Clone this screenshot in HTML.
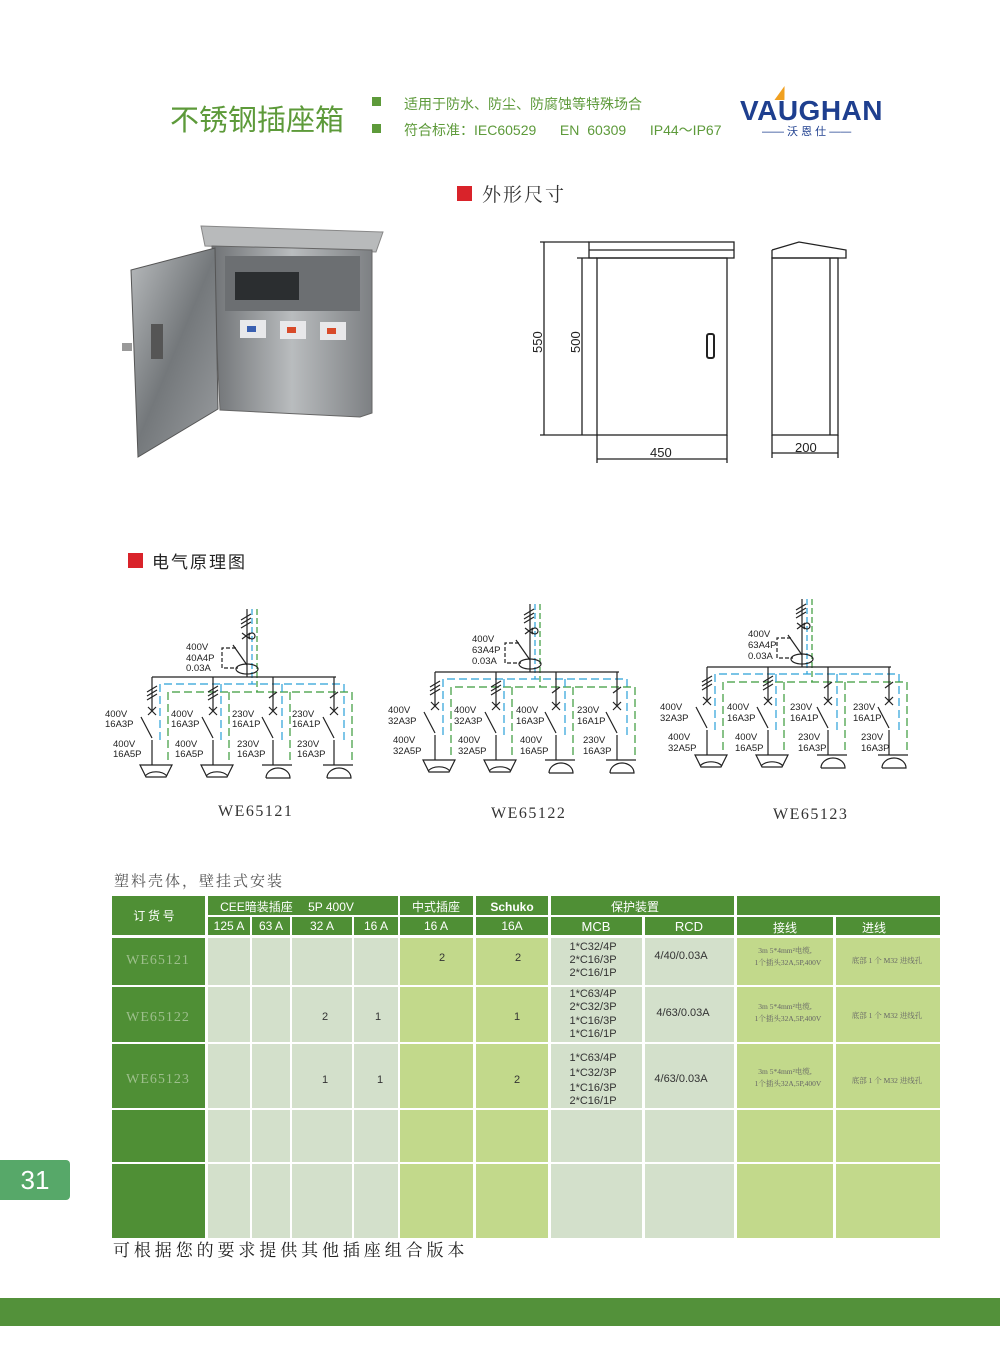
<!DOCTYPE html>
<html><head><meta charset="utf-8"><style>
body{margin:0;width:1000px;height:1363px;background:#fff;position:relative;overflow:hidden;font-family:"Liberation Sans","Noto Sans CJK SC",sans-serif}
.a{position:absolute}
</style></head><body>
<div class="a" style="left:170px;top:97px;font-size:29px;color:#5d9a3a;font-family:'Noto Sans CJK SC',sans-serif;letter-spacing:0px">不锈钢插座箱</div>
<div class="a" style="left:372px;top:97px;width:9px;height:9px;background:#5d9a3a"></div>
<div class="a" style="left:372px;top:124px;width:9px;height:9px;background:#5d9a3a"></div>
<div class="a" style="left:404px;top:94px;font-size:14px;color:#5d9a3a">适用于防水、防尘、防腐蚀等特殊场合</div>
<div class="a" style="left:404px;top:120px;font-size:14px;color:#5d9a3a;word-spacing:4px;white-space:pre">符合标准：IEC60529   EN 60309   IP44～IP67</div>
<div class="a" style="left:740px;top:95px;font-size:28px;font-weight:bold;color:#1e3f8f;letter-spacing:0.5px">VAUGHAN</div>
<div class="a" style="left:777px;top:86px;width:0;height:0;border-left:5px solid transparent;border-right:5px solid transparent;border-bottom:14px solid #f0a020;transform:skewX(-20deg)"></div>
<div class="a" style="left:762px;top:123px;font-size:11px;color:#1e3f8f;white-space:pre">—— 沃 恩 仕 ——</div>

<div class="a" style="left:457px;top:186px;width:15px;height:15px;background:#d9232a"></div>
<div class="a" style="left:482px;top:180px;font-size:19px;color:#333;font-family:'Noto Serif CJK SC',serif;letter-spacing:2px">外形尺寸</div>
<div class="a" style="left:128px;top:553px;width:15px;height:15px;background:#d9232a"></div>
<div class="a" style="left:152px;top:548px;font-size:17px;color:#222;letter-spacing:2px">电气原理图</div>

<svg class="a" style="left:0;top:0" width="1000" height="1363">
<defs>
<linearGradient id="st" x1="0" y1="0" x2="1" y2="1"><stop offset="0" stop-color="#b8bbbd"/><stop offset=".5" stop-color="#74787b"/><stop offset="1" stop-color="#9a9da0"/></linearGradient>
<linearGradient id="st2" x1="0" y1="0" x2="1" y2="0"><stop offset="0" stop-color="#6f7275"/><stop offset=".5" stop-color="#b9bcbe"/><stop offset="1" stop-color="#7d8083"/></linearGradient>
</defs>
<polygon points="201,226 383,232 376,252 205,246" fill="#b8babb" stroke="#888"/>
<polygon points="212,246 372,250 372,413 360,417 220,410" fill="url(#st2)" stroke="#666"/>
<rect x="225" y="256" width="135" height="55" fill="#6c6f72"/>
<rect x="235" y="272" width="64" height="28" fill="#2b2e30"/>
<rect x="240" y="320" width="26" height="18" fill="#e8e8ea"/><rect x="247" y="326" width="9" height="6" fill="#3a5fb0"/>
<rect x="280" y="321" width="26" height="18" fill="#e8e8ea"/><rect x="287" y="327" width="9" height="6" fill="#d84a2a"/>
<rect x="320" y="322" width="26" height="18" fill="#e8e8ea"/><rect x="327" y="328" width="9" height="6" fill="#d84a2a"/>
<polygon points="131,270 215,248 218,409 138,457" fill="url(#st)" stroke="#555"/>
<rect x="151" y="324" width="12" height="35" fill="#555"/>
<rect x="122" y="343" width="10" height="8" fill="#999"/>
</svg>

<svg class="a" style="left:0;top:0" width="1000" height="1363" fill="none" stroke="#222" stroke-width="1.3">
<rect x="589" y="242" width="145" height="16"/><line x1="589" y1="250" x2="734" y2="250"/>
<rect x="597" y="258" width="130" height="177"/>
<rect x="707" y="334" width="7" height="24" rx="2" stroke-width="2"/>
<polyline points="772,250 772,258 846,258 846,250 799,242 772,250"/>
<rect x="772" y="258" width="66" height="177"/><line x1="830" y1="258" x2="830" y2="435"/>
<line x1="540" y1="242" x2="589" y2="242"/><line x1="540" y1="435" x2="597" y2="435"/><line x1="544" y1="242" x2="544" y2="435"/>
<line x1="577" y1="258" x2="597" y2="258"/><line x1="582" y1="258" x2="582" y2="435"/>
<line x1="597" y1="435" x2="597" y2="463"/><line x1="727" y1="435" x2="727" y2="463"/><line x1="597" y1="459" x2="727" y2="459"/>
<line x1="772" y1="435" x2="772" y2="458"/><line x1="838" y1="435" x2="838" y2="458"/><line x1="772" y1="453" x2="838" y2="453"/>
<g fill="#222" stroke="none" font-size="13" font-family="Liberation Sans">
<text x="650" y="457">450</text><text x="795" y="452">200</text>
<text transform="translate(542,353) rotate(-90)">550</text><text transform="translate(580,353) rotate(-90)">500</text>
</g>
</svg>

<svg class="a" style="left:0;top:0" width="1000" height="1363" font-family="Liberation Sans" font-size="9.5">
<defs>
<g id="sch" fill="none" stroke-width="1.2">
<line x1="247" y1="609" x2="247" y2="677" stroke="#222"/>
<line x1="252" y1="609" x2="252" y2="684" stroke="#2aa0d8" stroke-dasharray="6,3"/>
<line x1="257" y1="609" x2="257" y2="692" stroke="#3a9a3a" stroke-dasharray="6,3"/>
<path d="M241,620l10,-6M241,624l10,-6M241,628l10,-6M242,633l8,6M242,639l8,-6" stroke="#222"/>
<circle cx="252" cy="636" r="3" stroke="#222"/>
<line x1="233" y1="645" x2="247" y2="665" stroke="#222"/>
<path d="M236,648h-14v20h16" stroke="#222" stroke-dasharray="4,2"/>
<ellipse cx="247" cy="669" rx="11" ry="5" stroke="#222"/>
<line x1="152" y1="677" x2="336" y2="677" stroke="#222"/>
<path d="M160,740V684H344V740" stroke="#2aa0d8" stroke-dasharray="8,4"/>
<path d="M168,760V692H352V760" stroke="#3a9a3a" stroke-dasharray="8,4"/>
<path d="M221,740V684M282,740V684" stroke="#2aa0d8" stroke-dasharray="8,4"/>
<path d="M229,760V692M290,760V692" stroke="#3a9a3a" stroke-dasharray="8,4"/>
<g stroke="#222">
<path d="M152,677V711M148,707l8,8M156,707l-8,8M141,717l11,21M152,740V765"/>
<path d="M213,677V711M209,707l8,8M217,707l-8,8M202,717l11,21M213,740V765"/>
<path d="M273,677V711M269,707l8,8M277,707l-8,8M262,717l11,21M273,740V765"/>
<path d="M334,677V711M330,707l8,8M338,707l-8,8M323,717l11,21M334,740V765"/>
<path d="M147,692l10,-6M147,696l10,-6M147,700l10,-6M208,692l10,-6M208,696l10,-6M208,700l10,-6M269,698l8,-6M330,698l8,-6"/>
<path d="M140,765h32l-6,12h-20z"/><path d="M145,776a13,9 0 0 1 22,0"/>
<path d="M201,765h32l-6,12h-20z"/><path d="M206,776a13,9 0 0 1 22,0"/>
<path d="M262,765h30"/><path d="M266,778a12,10 0 0 1 24,0h-24"/>
<path d="M323,765h30"/><path d="M327,778a12,10 0 0 1 24,0h-24"/>
</g>
</g>
</defs>
<use href="#sch"/>
<use href="#sch" transform="translate(283,-5)"/>
<use href="#sch" transform="translate(555,-10)"/>
<g fill="#222">
<text x="186" y="650">400V</text><text x="186" y="661">40A4P</text><text x="186" y="671">0.03A</text>
<text x="105" y="717">400V</text><text x="105" y="727">16A3P</text><text x="113" y="747">400V</text><text x="113" y="757">16A5P</text>
<text x="171" y="717">400V</text><text x="171" y="727">16A3P</text><text x="175" y="747">400V</text><text x="175" y="757">16A5P</text>
<text x="232" y="717">230V</text><text x="232" y="727">16A1P</text><text x="237" y="747">230V</text><text x="237" y="757">16A3P</text>
<text x="292" y="717">230V</text><text x="292" y="727">16A1P</text><text x="297" y="747">230V</text><text x="297" y="757">16A3P</text>
<text x="472" y="642">400V</text><text x="472" y="653">63A4P</text><text x="472" y="664">0.03A</text>
<text x="388" y="713">400V</text><text x="388" y="724">32A3P</text><text x="393" y="743">400V</text><text x="393" y="754">32A5P</text>
<text x="454" y="713">400V</text><text x="454" y="724">32A3P</text><text x="458" y="743">400V</text><text x="458" y="754">32A5P</text>
<text x="516" y="713">400V</text><text x="516" y="724">16A3P</text><text x="520" y="743">400V</text><text x="520" y="754">16A5P</text>
<text x="577" y="713">230V</text><text x="577" y="724">16A1P</text><text x="583" y="743">230V</text><text x="583" y="754">16A3P</text>
<text x="748" y="637">400V</text><text x="748" y="648">63A4P</text><text x="748" y="659">0.03A</text>
<text x="660" y="710">400V</text><text x="660" y="721">32A3P</text><text x="668" y="740">400V</text><text x="668" y="751">32A5P</text>
<text x="727" y="710">400V</text><text x="727" y="721">16A3P</text><text x="735" y="740">400V</text><text x="735" y="751">16A5P</text>
<text x="790" y="710">230V</text><text x="790" y="721">16A1P</text><text x="798" y="740">230V</text><text x="798" y="751">16A3P</text>
<text x="853" y="710">230V</text><text x="853" y="721">16A1P</text><text x="861" y="740">230V</text><text x="861" y="751">16A3P</text>
</g>
<g fill="#333" font-family="Liberation Serif" font-size="16" letter-spacing="1.5">
<text x="218" y="816">WE65121</text><text x="491" y="818">WE65122</text><text x="773" y="819">WE65123</text>
</g>
</svg>

<div class="a" style="left:114px;top:870px;font-size:15px;color:#555;font-family:'Noto Serif CJK SC',serif;letter-spacing:2px">塑料壳体，壁挂式安装</div>

<svg class="a" style="left:0;top:0" width="1000" height="1363" font-family="Liberation Sans">
<g fill="#4f8f35">
<rect x="112" y="896" width="93" height="39"/>
<rect x="208" y="896" width="190" height="19"/><rect x="400" y="896" width="73" height="19"/><rect x="476" y="896" width="72" height="19"/><rect x="551" y="896" width="183" height="19"/><rect x="737" y="896" width="203" height="19"/>
<rect x="208" y="917" width="42" height="18"/><rect x="252" y="917" width="38" height="18"/><rect x="292" y="917" width="60" height="18"/><rect x="354" y="917" width="44" height="18"/><rect x="400" y="917" width="73" height="18"/><rect x="476" y="917" width="72" height="18"/><rect x="551" y="917" width="91" height="18"/><rect x="645" y="917" width="89" height="18"/><rect x="737" y="917" width="96" height="18"/><rect x="836" y="917" width="104" height="18"/>
<rect x="112" y="938" width="93" height="47"/><rect x="112" y="987" width="93" height="55"/><rect x="112" y="1044" width="93" height="64"/><rect x="112" y="1110" width="93" height="52"/><rect x="112" y="1164" width="93" height="74"/>
</g>
<g fill="#fff" font-size="12" text-anchor="middle">
<text x="154" y="920" font-family="Noto Sans CJK SC">订 货 号</text>
<text x="287" y="911">CEE暗装插座 　5P 400V</text><text x="436" y="911">中式插座</text><text x="512" y="911" font-weight="bold">Schuko</text><text x="635" y="911">保护装置</text>
<text x="229" y="930">125 A</text><text x="271" y="930">63 A</text><text x="322" y="930">32 A</text><text x="376" y="930">16 A</text><text x="436" y="930">16 A</text><text x="512" y="930">16A</text><text x="596" y="931" font-size="13">MCB</text><text x="689" y="931" font-size="13">RCD</text><text x="785" y="932">接线</text><text x="874" y="932">进线</text>
</g>
<g fill="#d3e0cb">
<rect x="208" y="938" width="42" height="47"/><rect x="252" y="938" width="38" height="47"/><rect x="292" y="938" width="60" height="47"/><rect x="354" y="938" width="44" height="47"/><rect x="551" y="938" width="91" height="47"/><rect x="645" y="938" width="89" height="47"/>
<rect x="208" y="987" width="42" height="55"/><rect x="252" y="987" width="38" height="55"/><rect x="292" y="987" width="60" height="55"/><rect x="354" y="987" width="44" height="55"/><rect x="551" y="987" width="91" height="55"/><rect x="645" y="987" width="89" height="55"/>
<rect x="208" y="1044" width="42" height="64"/><rect x="252" y="1044" width="38" height="64"/><rect x="292" y="1044" width="60" height="64"/><rect x="354" y="1044" width="44" height="64"/><rect x="551" y="1044" width="91" height="64"/><rect x="645" y="1044" width="89" height="64"/>
<rect x="208" y="1110" width="42" height="52"/><rect x="252" y="1110" width="38" height="52"/><rect x="292" y="1110" width="60" height="52"/><rect x="354" y="1110" width="44" height="52"/><rect x="551" y="1110" width="91" height="52"/><rect x="645" y="1110" width="89" height="52"/>
<rect x="208" y="1164" width="42" height="74"/><rect x="252" y="1164" width="38" height="74"/><rect x="292" y="1164" width="60" height="74"/><rect x="354" y="1164" width="44" height="74"/><rect x="551" y="1164" width="91" height="74"/><rect x="645" y="1164" width="89" height="74"/>
</g>
<g fill="#c2d98b">
<rect x="400" y="938" width="73" height="47"/><rect x="476" y="938" width="72" height="47"/><rect x="737" y="938" width="96" height="47"/><rect x="836" y="938" width="104" height="47"/>
<rect x="400" y="987" width="73" height="55"/><rect x="476" y="987" width="72" height="55"/><rect x="737" y="987" width="96" height="55"/><rect x="836" y="987" width="104" height="55"/>
<rect x="400" y="1044" width="73" height="64"/><rect x="476" y="1044" width="72" height="64"/><rect x="737" y="1044" width="96" height="64"/><rect x="836" y="1044" width="104" height="64"/>
<rect x="400" y="1110" width="73" height="52"/><rect x="476" y="1110" width="72" height="52"/><rect x="737" y="1110" width="96" height="52"/><rect x="836" y="1110" width="104" height="52"/>
<rect x="400" y="1164" width="73" height="74"/><rect x="476" y="1164" width="72" height="74"/><rect x="737" y="1164" width="96" height="74"/><rect x="836" y="1164" width="104" height="74"/>
</g>
<g fill="#9dbf8c" font-family="Liberation Serif" font-size="14" text-anchor="middle" letter-spacing="1">
<text x="158" y="964">WE65121</text><text x="158" y="1021">WE65122</text><text x="158" y="1083">WE65123</text>
</g>
<g fill="#333" font-family="Liberation Sans" font-size="11" text-anchor="middle">
<text x="442" y="961">2</text><text x="518" y="961">2</text>
<text x="325" y="1020">2</text><text x="378" y="1020">1</text><text x="517" y="1020">1</text>
<text x="325" y="1083">1</text><text x="380" y="1083">1</text><text x="517" y="1083">2</text>
<text x="593" y="950">1*C32/4P</text><text x="593" y="963">2*C16/3P</text><text x="593" y="976">2*C16/1P</text>
<text x="593" y="997">1*C63/4P</text><text x="593" y="1010">2*C32/3P</text><text x="593" y="1024">1*C16/3P</text><text x="593" y="1037">1*C16/1P</text>
<text x="593" y="1061">1*C63/4P</text><text x="593" y="1076">1*C32/3P</text><text x="593" y="1091">1*C16/3P</text><text x="593" y="1104">2*C16/1P</text>
<text x="681" y="959">4/40/0.03A</text><text x="683" y="1016">4/63/0.03A</text><text x="681" y="1082">4/63/0.03A</text>
</g>
<g fill="#666" font-family="Liberation Serif,Noto Serif CJK SC" font-size="7.5" text-anchor="middle">
<text x="785" y="953">3m 5*4mm²电缆,</text><text x="788" y="965">1个插头32A,5P,400V</text>
<text x="785" y="1009">3m 5*4mm²电缆,</text><text x="788" y="1021">1个插头32A,5P,400V</text>
<text x="785" y="1074">3m 5*4mm²电缆,</text><text x="788" y="1086">1个插头32A,5P,400V</text>
<text x="887" y="963">底部 1 个 M32 进线孔</text><text x="887" y="1018">底部 1 个 M32 进线孔</text><text x="887" y="1083">底部 1 个 M32 进线孔</text>
</g>
</svg>

<div class="a" style="left:113px;top:1236px;font-size:17px;color:#222;font-family:'Noto Serif CJK SC',serif;letter-spacing:3.9px">可根据您的要求提供其他插座组合版本</div>
<div class="a" style="left:0;top:1160px;width:70px;height:40px;background:#57a869;border-radius:0 4px 4px 0;color:#fff;font-size:26px;line-height:40px;text-align:center">31</div>
<div class="a" style="left:0;top:1298px;width:1000px;height:28px;background:#53913a"></div>
</body></html>
